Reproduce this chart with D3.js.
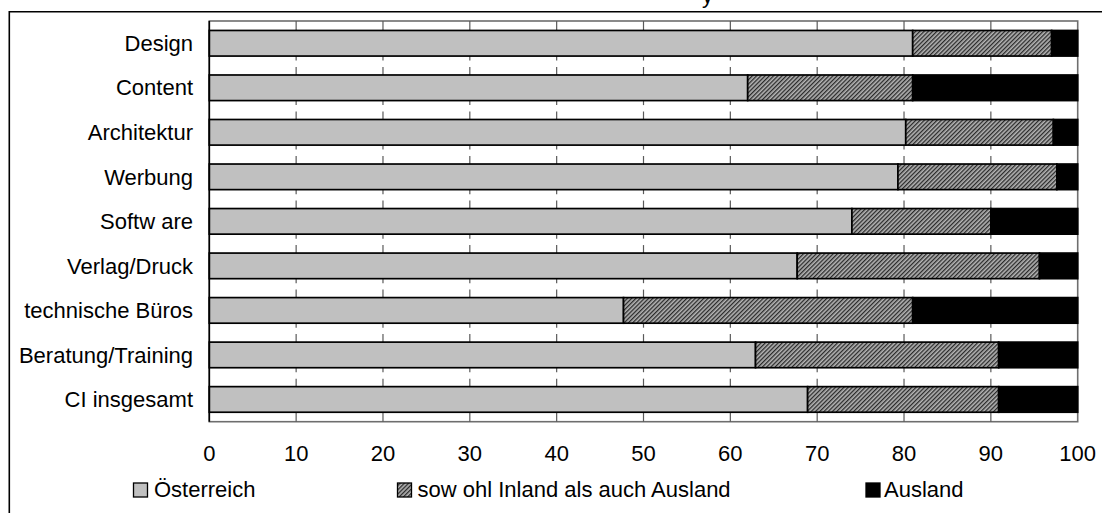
<!DOCTYPE html>
<html>
<head>
<meta charset="utf-8">
<script src="https://cdn.jsdelivr.net/npm/d3@7"></script>
<style>
  html, body { margin: 0; padding: 0; background: #fff; }
  svg { display: block; }
  text { font-family: "Liberation Sans", Arial, sans-serif; fill: #000; }
</style>
</head>
<body>
<svg id="chart" width="1102" height="513"></svg>
<script>
// ---- data ----
const categories = ["Design", "Content", "Architektur", "Werbung", "Softw are",
  "Verlag/Druck", "technische Büros", "Beratung/Training", "CI insgesamt"];
const oesterreich = [81, 62, 80.2, 79.3, 74, 67.7, 47.7, 62.9, 68.9];
const beides      = [16, 19, 17, 18.3, 16, 27.9, 33.3, 28, 22];
const ausland     = [3, 19, 2.8, 2.4, 10, 4.4, 19, 9.1, 9.1];
const seriesNames = ["Österreich", "sow ohl Inland als auch Ausland", "Ausland"];
const xTicks = [0, 10, 20, 30, 40, 50, 60, 70, 80, 90, 100];

// ---- layout ----
const svg = d3.select("#chart");
const plot = { left: 209.3, right: 1077.7, top: 21, bottom: 421.7 };
const FONT = 22;

const defs = svg.append("defs");
const pat = defs.append("pattern")
  .attr("id", "hatch").attr("patternUnits", "userSpaceOnUse")
  .attr("width", 3).attr("height", 3)
  .attr("patternTransform", "rotate(45)");
pat.append("rect").attr("width", 3).attr("height", 3).attr("fill", "#b4b4b4");
pat.append("rect").attr("width", 1.3).attr("height", 3).attr("fill", "#2a2a2a");

// outer frame (top & left visible)
svg.append("path")
  .attr("d", "M9.3,513 L9.3,11.7 L1102,11.7")
  .attr("fill", "none").attr("stroke", "#000").attr("stroke-width", 1.6);

// cut-off title descender
svg.append("text").attr("x", 702).attr("y", 2.5)
  .attr("font-size", FONT).text("y");

const x = d3.scaleLinear().domain([0, 100]).range([plot.left, plot.right]);
const pi = 0.425;
const y = d3.scaleBand().domain(categories).range([plot.top, plot.bottom])
  .paddingInner(pi).paddingOuter(pi / 2);

// plot frame
svg.append("rect")
  .attr("x", plot.left).attr("y", plot.top)
  .attr("width", plot.right - plot.left).attr("height", plot.bottom - plot.top)
  .attr("fill", "#fff").attr("stroke", "#6e6e6e").attr("stroke-width", 1.6);

// gridlines in the gaps between bars
const gaps = [];
const bw = y.bandwidth();
gaps.push([plot.top, y(categories[0]), true]);
for (let i = 0; i < categories.length - 1; i++) {
  gaps.push([y(categories[i]) + bw, y(categories[i + 1]), false]);
}
gaps.push([y(categories[categories.length - 1]) + bw, plot.bottom, true]);
const gridG = svg.append("g");
xTicks.filter(t => t > 0 && t < 100).forEach(t => {
  gaps.forEach(([a, b, full]) => {
    const segs = full ? [[a, b]] : [[a, a + 4.5], [b - 8, b]];
    segs.forEach(([s, e]) => {
      gridG.append("line")
        .attr("x1", x(t)).attr("x2", x(t)).attr("y1", s).attr("y2", e)
        .attr("stroke", "#5a5a5a").attr("stroke-width", 1.2);
    });
  });
});

// stacked bars
const rows = categories.map((c, i) => ({ cat: c, a: oesterreich[i], b: beides[i], c: ausland[i] }));
const stack = d3.stack().keys(["a", "b", "c"])(rows);
const fills = ["#c0c0c0", "url(#hatch)", "#000"];
svg.append("g").selectAll("g").data(stack).join("g")
  .attr("fill", (d, i) => fills[i])
  .selectAll("rect").data(d => d).join("rect")
  .attr("x", d => x(d[0]))
  .attr("width", d => x(Math.min(d[1], 100)) - x(d[0]))
  .attr("y", d => y(d.data.cat))
  .attr("height", bw)
  .attr("stroke", "#000").attr("stroke-width", 1.7);

// left axis line
svg.append("line").attr("x1", plot.left).attr("x2", plot.left)
  .attr("y1", plot.top).attr("y2", plot.bottom)
  .attr("stroke", "#000").attr("stroke-width", 1.6);

// category labels
svg.append("g").selectAll("text").data(categories).join("text")
  .attr("x", 193).attr("y", d => y(d) + bw / 2)
  .attr("dy", "0.35em").attr("text-anchor", "end")
  .attr("font-size", FONT).text(d => d);

// x tick labels
svg.append("g").selectAll("text").data(xTicks).join("text")
  .attr("x", d => x(d)).attr("y", 461)
  .attr("text-anchor", "middle").attr("font-size", FONT).text(d => d);

// legend
const legendPos = [{ sx: 133.5, tx: 154 }, { sx: 397.5, tx: 417.5 }, { sx: 866, tx: 884 }];
const lg = svg.append("g");
seriesNames.forEach((n, i) => {
  lg.append("rect").attr("x", legendPos[i].sx).attr("y", 483)
    .attr("width", 14).attr("height", 14)
    .attr("fill", fills[i]).attr("stroke", "#000").attr("stroke-width", 1.3);
  lg.append("text").attr("x", legendPos[i].tx).attr("y", 497)
    .attr("font-size", FONT).text(n);
});
</script>
</body>
</html>
